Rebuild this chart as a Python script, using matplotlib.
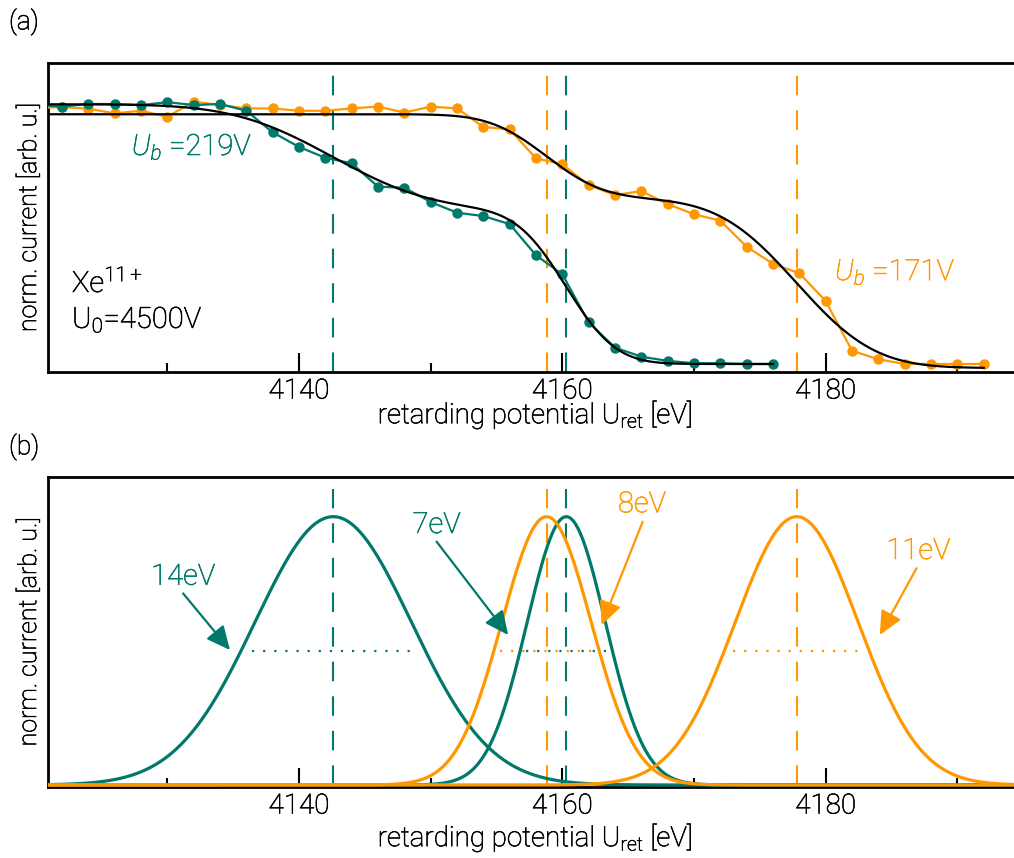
import math
import numpy as np
import matplotlib
matplotlib.use('Agg')
import matplotlib.pyplot as plt
import matplotlib.patheffects as pe

FONT = 'Roboto'
plt.rcParams['font.family'] = [FONT, 'DejaVu Sans']
plt.rcParams['font.weight'] = 'light'
plt.rcParams['axes.labelweight'] = 'light'
plt.rcParams['mathtext.fontset'] = 'custom'
plt.rcParams['mathtext.rm'] = FONT + ':light'
plt.rcParams['mathtext.it'] = FONT + ':italic:light'
plt.rcParams['mathtext.default'] = 'regular'

TEAL = '#00796B'
ORANGE = '#FF9800'
TEXT = 'black'

# ---------------- data: panel (a) measured points ----------------
x_green = [4120, 4122, 4124, 4126, 4128, 4130, 4132, 4134, 4136, 4138, 4140,
           4142, 4144, 4146, 4148, 4150, 4152, 4154, 4156, 4158, 4160, 4162,
           4164, 4166, 4168, 4170, 4172, 4174, 4176]
y_green = [0.996, 0.990, 1.000, 1.000, 0.996, 1.007, 0.996, 1.000, 0.974,
           0.891, 0.835, 0.793, 0.772, 0.682, 0.678, 0.623, 0.582, 0.569,
           0.538, 0.418, 0.345, 0.160, 0.063, 0.028, 0.012, 0.003, 0.003,
           0.000, 0.000]

x_orange = [4120, 4122, 4124, 4126, 4128, 4130, 4132, 4134, 4136, 4138, 4140,
            4142, 4144, 4146, 4148, 4150, 4152, 4154, 4156, 4158, 4160, 4162,
            4164, 4166, 4168, 4170, 4172, 4174, 4176, 4178, 4180, 4182, 4184,
            4186, 4188, 4190, 4192]
y_orange = [0.985, 0.988, 0.982, 0.964, 0.974, 0.951, 1.009, 0.996, 0.983,
            0.983, 0.974, 0.974, 0.983, 0.990, 0.967, 0.990, 0.983, 0.912,
            0.902, 0.791, 0.768, 0.688, 0.650, 0.665, 0.615, 0.576, 0.551,
            0.451, 0.385, 0.349, 0.242, 0.051, 0.018, 0.000, 0.000, 0.000,
            0.000]

# ---------------- fit parameters (two-step error-function model) ----------------
green_centers = [4142.6, 4160.3]
green_fwhm = [14, 7]
green_amps = [0.407, 0.592]
green_offset = 0.0
green_fit_range = [4120.0, 4176.0]

orange_centers = [4158.8, 4177.8]
orange_fwhm = [8, 11]
orange_amps = [0.323, 0.653]
orange_offset = -0.0154
orange_fit_range = [4120.0, 4192.0]

# ---------------- annotations ----------------
green_labels = ['14eV', '7eV']
green_label_xy = [(4131.2, 0.776), (4150.45, 0.969)]
green_arrow_tail = [(4131.2, 0.714), (4150.45, 0.907)]
green_arrow_tip = [(4134.76, 0.503), (4155.89, 0.559)]

orange_labels = ['8eV', '11eV']
orange_label_xy = [(4166.04, 1.046), (4187.03, 0.872)]
orange_arrow_tail = [(4166.10, 0.981), (4186.90, 0.808)]
orange_arrow_tip = [(4162.98, 0.596), (4184.11, 0.559)]

major_ticks = [4140, 4160, 4180]
minor_ticks = [4130, 4150, 4170, 4190]
XLIM = (4120.94, 4194.3)

erf = np.vectorize(math.erf)
K = 2.0 * math.sqrt(2.0 * math.log(2.0))


def step_fit(x, centers, fwhms, amps, offset):
    y = np.full_like(x, offset, dtype=float)
    for c, f, a in zip(centers, fwhms, amps):
        s = f / K
        y += a * 0.5 * (1.0 - erf((x - c) / (s * math.sqrt(2.0))))
    return y


def gauss(x, c, f):
    return np.exp(-4.0 * math.log(2.0) * (x - c) ** 2 / f ** 2)


def thicken(t, color):
    t.set_path_effects([pe.withStroke(linewidth=0.45, foreground=color)])
    return t


W, H = 1014, 858
fig = plt.figure(figsize=(W / 100, H / 100), dpi=100)

ax_l = 48 / W
ax_w = 1 - ax_l
axA = fig.add_axes([ax_l, 1 - 372 / H, ax_w, (372 - 63) / H])
axB = fig.add_axes([ax_l, 1 - 787 / H, ax_w, (787 - 476.7) / H])

FS_TICK = 20
FS_XLAB = 20
FS_YLAB = 18
FS_ANN = 21
DASH = (0, (9.4, 7.2))

for ax, ylab in ((axA, -0.139), (axB, -0.164)):
    ax.set_xlim(*XLIM)
    ax.set_xticks(major_ticks)
    ax.set_xticks(minor_ticks, minor=True)
    ax.set_yticks([])
    ax.tick_params(axis='x', which='major', direction='in', length=13.5,
                   width=1.5, labelsize=FS_TICK, pad=4, top=False,
                   labelcolor=TEXT)
    ax.tick_params(axis='x', which='minor', direction='in', length=6.5,
                   width=1.5, top=False)
    for sp in ('left', 'top', 'bottom'):
        ax.spines[sp].set_linewidth(2.0)
    ax.spines['right'].set_visible(False)
    xl = ax.set_xlabel(r'retarding potential U$_{\mathregular{ret}}$ [eV]',
                       fontsize=FS_XLAB, va='center', color=TEXT)
    yl = ax.set_ylabel('norm. current [arb. u.]', fontsize=FS_YLAB, labelpad=5,
                       color=TEXT)
    thicken(xl, TEXT)
    thicken(yl, TEXT)
    ax.xaxis.set_label_coords((535 - 48) / (W - 48), ylab)
    for lbl in ax.get_xticklabels():
        thicken(lbl, TEXT)

# ---------------- panel (a) ----------------
axA.set_ylim(-0.0308, 1.1577)
axA.plot(x_orange, y_orange, '-o', color=ORANGE, lw=1.6, ms=6.5, zorder=3)
axA.plot(x_green, y_green, '-o', color=TEAL, lw=1.6, ms=6.5, zorder=3)

xg = np.linspace(green_fit_range[0], green_fit_range[1], 600)
xo = np.linspace(orange_fit_range[0], orange_fit_range[1], 600)
axA.plot(xg, step_fit(xg, green_centers, green_fwhm, green_amps, green_offset),
         color='black', lw=1.6, zorder=4)
axA.plot(xo, step_fit(xo, orange_centers, orange_fwhm, orange_amps, orange_offset),
         color='black', lw=1.6, zorder=4)

for c in green_centers:
    axA.plot([c, c], [-0.0308, 1.115], color=TEAL, lw=1.5, ls=DASH, zorder=2)
for c in orange_centers:
    axA.plot([c, c], [-0.0308, 1.115], color=ORANGE, lw=1.5, ls=DASH, zorder=2)

thicken(axA.text(4127.3, 0.836, r'$\mathit{U_b}$ =219V', color=TEAL, fontsize=FS_ANN,
                 ha='left', va='center'), TEAL)
thicken(axA.text(4180.7, 0.355, r'$\mathit{U_b}$ =171V', color=ORANGE, fontsize=FS_ANN,
                 ha='left', va='center'), ORANGE)
thicken(axA.text(4122.76, 0.277, r'Xe$^{11+}$', color=TEXT, fontsize=FS_ANN,
                 ha='left', va='baseline'), TEXT)
thicken(axA.text(4122.76, 0.138, r'U$_0$=4500V', color=TEXT, fontsize=FS_ANN,
                 ha='left', va='baseline'), TEXT)

# ---------------- panel (b) ----------------
axB.set_ylim(-0.0075, 1.149)
xx = np.linspace(XLIM[0], XLIM[1], 1500)
for c, f in zip(green_centers, green_fwhm):
    axB.plot(xx, gauss(xx, c, f), color=TEAL, lw=2.3, zorder=3)
for c, f in zip(orange_centers, orange_fwhm):
    axB.plot(xx, gauss(xx, c, f), color=ORANGE, lw=2.3, zorder=3)

HM_FRAC = 0.88
for c, f in zip(green_centers, green_fwhm):
    axB.plot([c - HM_FRAC * f / 2, c + HM_FRAC * f / 2], [0.5, 0.5], color=TEAL,
             lw=1.6, ls=(0, (1, 4.0)), zorder=2)
    axB.plot([c, c], [0.0, 1.105], color=TEAL, lw=1.5, ls=DASH, zorder=2)
for c, f in zip(orange_centers, orange_fwhm):
    axB.plot([c - HM_FRAC * f / 2, c + HM_FRAC * f / 2], [0.5, 0.5], color=ORANGE,
             lw=1.6, ls=(0, (1, 4.0)), zorder=2)
    axB.plot([c, c], [0.0, 1.105], color=ORANGE, lw=1.5, ls=DASH, zorder=2)

ARROW = dict(arrowstyle='-|>,head_length=0.85,head_width=0.4', lw=1.6,
             mutation_scale=17, shrinkA=0, shrinkB=0)
for lab, pos, tail, tip in zip(green_labels, green_label_xy, green_arrow_tail, green_arrow_tip):
    thicken(axB.text(pos[0], pos[1], lab, color=TEAL, fontsize=FS_ANN,
                     ha='center', va='center'), TEAL)
    axB.annotate('', xy=tip, xytext=tail, arrowprops=dict(color=TEAL, **ARROW), zorder=5)
for lab, pos, tail, tip in zip(orange_labels, orange_label_xy, orange_arrow_tail, orange_arrow_tip):
    thicken(axB.text(pos[0], pos[1], lab, color=ORANGE, fontsize=FS_ANN,
                     ha='center', va='center'), ORANGE)
    axB.annotate('', xy=tip, xytext=tail, arrowprops=dict(color=ORANGE, **ARROW), zorder=5)

thicken(fig.text(9 / W, 1 - 22 / H, '(a)', fontsize=19, ha='left', va='center',
                 color=TEXT), TEXT)
thicken(fig.text(9 / W, 1 - 447 / H, '(b)', fontsize=19, ha='left', va='center',
                 color=TEXT), TEXT)

fig.savefig('out.png', dpi=100)
